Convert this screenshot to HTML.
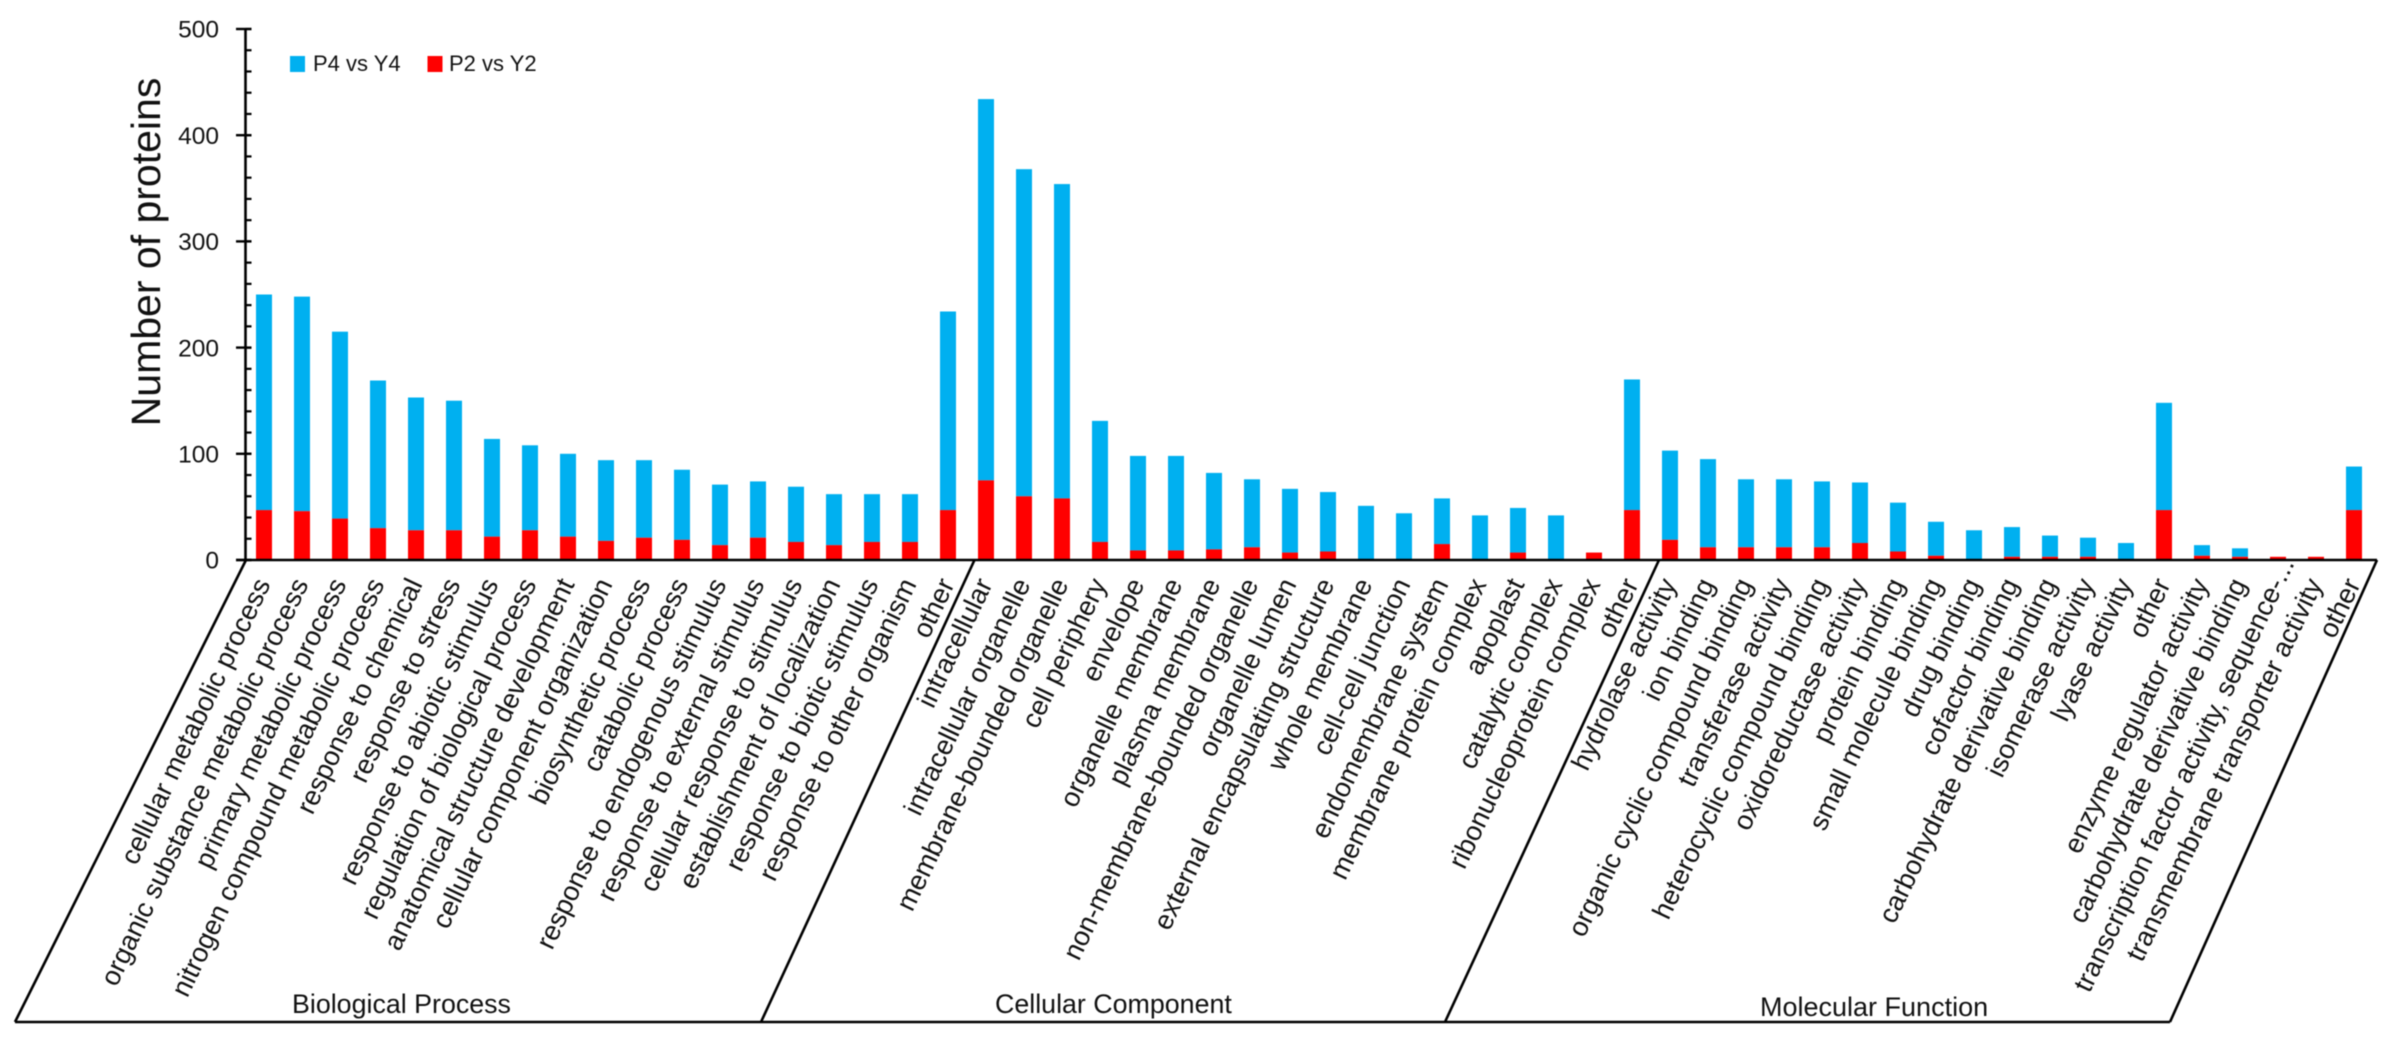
<!DOCTYPE html>
<html lang="en">
<head>
<meta charset="utf-8">
<title>Number of proteins by GO category</title>
<style>
html,body{margin:0;padding:0;background:#fff;width:2392px;height:1051px;overflow:hidden}
svg{display:block;filter:blur(0.6px)}
text{font-family:"Liberation Sans",sans-serif;fill:#111}
</style>
</head>
<body>
<svg id="chart" xmlns="http://www.w3.org/2000/svg" width="2392" height="1051" viewBox="0 0 2392 1051">
  <rect x="0" y="0" width="2392" height="1051" fill="#fff"/>
  <g id="bars"></g>
  <g id="axis"></g>
  <text transform="translate(160,252) rotate(-90)" text-anchor="middle" font-size="41">Number of proteins</text>
  <g id="labels"></g>
  <g fill="none" stroke="#000" stroke-width="2.6">
    <line x1="236" y1="560" x2="2377" y2="560"/>
    <line x1="15" y1="1022" x2="2170" y2="1022"/>
    <line x1="246" y1="560" x2="15" y2="1022"/>
    <line x1="974.5" y1="560" x2="761" y2="1022"/>
    <line x1="1659" y1="560" x2="1445" y2="1022"/>
    <line x1="2377" y1="560" x2="2170" y2="1022"/>
  </g>
  <text x="292" y="1013" font-size="26.8">Biological Process</text>
  <text x="995" y="1013" font-size="26.8">Cellular Component</text>
  <text x="1760" y="1016" font-size="27">Molecular Function</text>
  <g>
    <g>
      <rect x="290" y="56" width="15" height="16" fill="#00B0F0"/>
      <text x="313" y="71" font-size="22">P4 vs Y4</text>
    </g>
    <g>
      <rect x="427.5" y="56" width="15" height="16" fill="#FF0000"/>
      <text x="449" y="71" font-size="22">P2 vs Y2</text>
    </g>
  </g>
</svg>
<script>
const categories = [
  "cellular metabolic process","organic substance metabolic process","primary metabolic process",
  "nitrogen compound metabolic process","response to chemical","response to stress",
  "response to abiotic stimulus","regulation of biological process","anatomical structure development",
  "cellular component organization","biosynthetic process","catabolic process",
  "response to endogenous stimulus","response to external stimulus","cellular response to stimulus",
  "establishment of localization","response to biotic stimulus","response to other organism","other",
  "intracellular","intracellular organelle","membrane-bounded organelle","cell periphery","envelope",
  "organelle membrane","plasma membrane","non-membrane-bounded organelle","organelle lumen",
  "external encapsulating structure","whole membrane","cell-cell junction","endomembrane system",
  "membrane protein complex","apoplast","catalytic complex","ribonucleoprotein complex","other",
  "hydrolase activity","ion binding","organic cyclic compound binding","transferase activity",
  "heterocyclic compound binding","oxidoreductase activity","protein binding","small molecule binding",
  "drug binding","cofactor binding","carbohydrate derivative binding","isomerase activity","lyase activity","other",
  "enzyme regulator activity","carbohydrate derivative binding","transcription factor activity, sequence-...",
  "transmembrane transporter activity","other"
];
const p2Values = [47,46,39,30,28,28,22,28,22,18,21,19,14,21,17,14,17,17,47,
  75,60,58,17,9,9,10,12,7,8,0,0,15,0,7,0,7,47,
  19,12,12,12,12,16,8,4,0,3,3,3,0,47,4,3,3,3,47];
const p4Values = [203,202,176,139,125,122,92,80,78,76,73,66,57,53,52,48,45,45,187,
  359,308,296,114,89,89,72,64,60,56,51,44,43,42,42,42,0,123,
  84,83,64,64,62,57,46,32,28,28,20,18,16,101,10,8,0,0,41];
const yTickValues = [0,100,200,300,400,500];
const yTickLabels = ["0","100","200","300","400","500"];

const svgNS = "http://www.w3.org/2000/svg";
const y0 = 560, pxPerUnit = 1.062, firstX = 264, stepX = 38, barW = 16;
const minorStep = 20, yMax = 500;
function yScale(v){ return y0 - v * pxPerUnit; }
function xScale(i){ return firstX + i * stepX; }
function slug(s){ return s.toLowerCase().replace(/[^a-z0-9]+/g,'-').replace(/^-|-$/g,''); }
function make(tag, parent){
  const el = document.createElementNS(svgNS, tag);
  parent.appendChild(el);
  return el;
}

const barsG = document.getElementById('bars');
categories.forEach(function(cat, i){
  const name = slug(cat) + '-' + i;
  const cx = xScale(i);
  const p2Top = yScale(p2Values[i]);
  const p4Top = yScale(p2Values[i] + p4Values[i]);
  const blue = make('rect', barsG);
  
  
  blue.setAttribute('x', cx - barW / 2);
  blue.setAttribute('y', p4Top);
  blue.setAttribute('width', barW);
  blue.setAttribute('height', p2Top - p4Top);
  blue.setAttribute('fill', '#00B0F0');
  const red = make('rect', barsG);
  
  
  red.setAttribute('x', cx - barW / 2);
  red.setAttribute('y', p2Top);
  red.setAttribute('width', barW);
  red.setAttribute('height', y0 - p2Top);
  red.setAttribute('fill', '#FF0000');
});

const axisG = document.getElementById('axis');
const axisLine = make('line', axisG);


axisLine.setAttribute('x1', 245.5);
axisLine.setAttribute('x2', 245.5);
axisLine.setAttribute('y1', yScale(yMax) - 1);
axisLine.setAttribute('y2', y0);
axisLine.setAttribute('stroke', '#000');
axisLine.setAttribute('stroke-width', 2.6);
for (let v = 0; v <= yMax; v += minorStep) {
  const minor = make('line', axisG);
  
  
  minor.setAttribute('x1', 245.5);
  minor.setAttribute('x2', 251.5);
  minor.setAttribute('y1', yScale(v));
  minor.setAttribute('y2', yScale(v));
  minor.setAttribute('stroke', '#000');
  minor.setAttribute('stroke-width', 2.2);
}
yTickValues.forEach(function(v, i){
  const major = make('line', axisG);
  
  
  major.setAttribute('x1', 236);
  major.setAttribute('x2', 251.5);
  major.setAttribute('y1', yScale(v));
  major.setAttribute('y2', yScale(v));
  major.setAttribute('stroke', '#000');
  major.setAttribute('stroke-width', 2.4);
  const lab = make('text', axisG);
  
  
  lab.setAttribute('x', 219);
  lab.setAttribute('y', yScale(v) + 8.7);
  lab.setAttribute('text-anchor', 'end');
  lab.setAttribute('font-size', 24.5);
  lab.textContent = yTickLabels[i];
});

const labelsG = document.getElementById('labels');
const labelAngle = 64.5, labelFont = 27.2, labelEndY = 584, labelDx = 7;
const rad = labelAngle * Math.PI / 180;
categories.forEach(function(cat, i){
  let ax = xScale(i) + labelDx, ay = labelEndY;
  if (cat.slice(-3) === '...') {
    ax += 23 * Math.cos(rad);
    ay -= 23 * Math.sin(rad);
  }
  const t = make('text', labelsG);
  
  
  t.setAttribute('transform', 'translate(' + ax + ',' + ay + ') rotate(-' + labelAngle + ')');
  t.setAttribute('text-anchor', 'end');
  t.setAttribute('font-size', labelFont);
  t.textContent = cat;
});
</script>
</body>
</html>
